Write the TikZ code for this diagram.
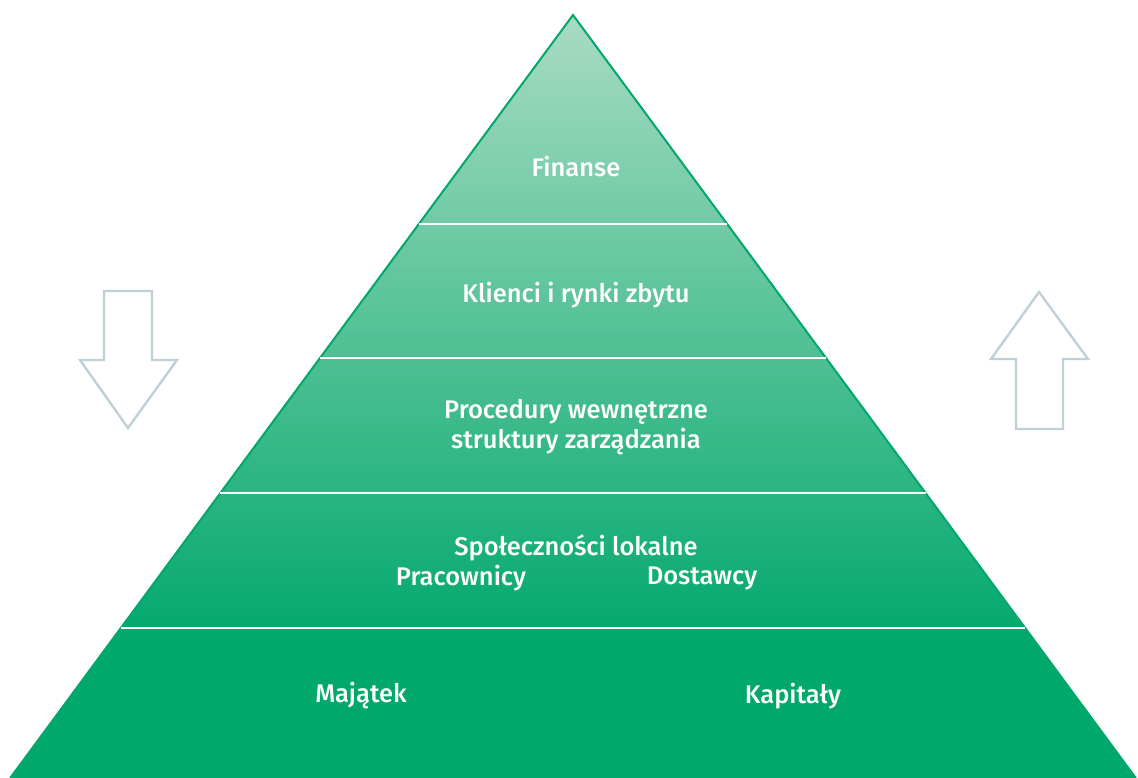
\documentclass[tikz,border=0pt]{standalone}
\usepackage{fontspec}
\setmainfont{Fira Sans}[UprightFont={* Medium}]
\definecolor{gtop}{HTML}{A8DBC3}
\definecolor{gbot}{HTML}{00A86B}
\definecolor{edge}{HTML}{00A86B}
\definecolor{arr}{HTML}{BFD0D7}
\tikzset{
  lbl/.style={text=white, font=\fontsize{25.5}{30}\selectfont, inner sep=0pt, anchor=center, align=center},
  sep/.style={white, line width=2.2pt},
  arrowshape/.style={draw=arr, line width=2.4pt, fill=white, line join=miter},
}
\begin{document}
\begin{tikzpicture}[x=1pt,y=1pt]
\useasboundingbox (0,0) rectangle (1138,778);
% pyramid corners (y = 778 - image y)
\coordinate (apex) at (573,763);
\coordinate (bl) at (10.2,0);
\coordinate (br) at (1135.8,0);
\begin{scope}
\clip (apex) -- (br) -- (bl) -- cycle;
\shade[top color=gtop, bottom color=gbot] (0,130) rectangle (1138,763);
\fill[gbot] (0,-1) rectangle (1138,131);
\end{scope}
\draw[edge, line width=2pt, line join=miter] (bl) -- (apex) -- (br);
% separators
\coordinate (l1) at (419,554); \coordinate (r1) at (727,554);
\coordinate (l2) at (320,420); \coordinate (r2) at (826,420);
\coordinate (l3) at (220.4,285); \coordinate (r3) at (925.6,285);
\coordinate (l4) at (121,150); \coordinate (r4) at (1025,150);
\draw[sep] (l1) -- (r1);
\draw[sep] (l2) -- (r2);
\draw[sep] (l3) -- (r3);
\draw[sep] (l4) -- (r4);
% labels
\node[lbl] (finanse) at (576,611) {Finanse};
\node[lbl] (klienci) at (576,483) {Klienci i rynki zbytu};
\node[lbl] (proc1) at (576,366) {Procedury wewnętrzne};
\node[lbl] (proc2) at (576,336) {struktury zarządzania};
\node[lbl] (spol) at (576,230) {Społeczności lokalne};
\node[lbl] (prac) at (461,200) {Pracownicy};
\node[lbl] (dost) at (702,200) {Dostawcy};
\node[lbl] (maj) at (361,82) {Majątek};
\node[lbl] (kap) at (793,82) {Kapitały};
% down arrow (left)
\draw[arrowshape] (104,487) -- (152,487) -- (152,418) -- (177,418) -- (128,350) -- (80,418) -- (104,418) -- cycle;
% up arrow (right)
\draw[arrowshape] (1039,486) -- (1088,419) -- (1063,419) -- (1063,349) -- (1016,349) -- (1016,419) -- (991,419) -- cycle;
\end{tikzpicture}
\end{document}
